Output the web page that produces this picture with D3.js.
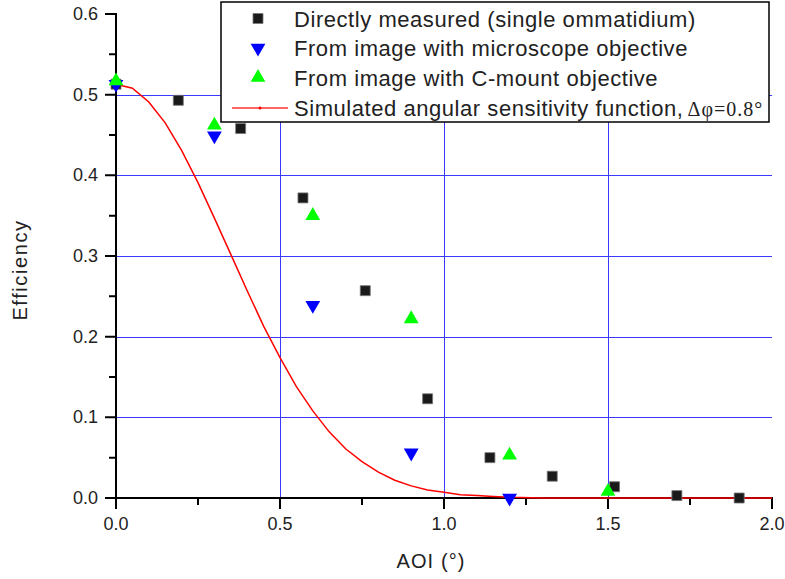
<!DOCTYPE html>
<html><head><meta charset="utf-8">
<script src="https://cdn.jsdelivr.net/npm/d3@7"></script>
<style>body{margin:0;background:#fff}svg{display:block}text{font-family:"Liberation Sans",Arial,sans-serif}</style>
</head><body>
<svg id="c" width="785" height="579"></svg>
<script>
// Directly measured (single ommatidium)
const directX = [0, 0.19, 0.38, 0.57, 0.76, 0.95, 1.14, 1.33, 1.52, 1.71, 1.90];
const directY = [0.513, 0.493, 0.458, 0.372, 0.257, 0.123, 0.050, 0.027, 0.014, 0.003, 0.000];
// From image with microscope objective
const microX = [0, 0.3, 0.6, 0.9, 1.2];
const microY = [0.513, 0.449, 0.239, 0.056, 0.000];
// From image with C-mount objective
const cmountX = [0, 0.3, 0.6, 0.9, 1.2, 1.5];
const cmountY = [0.517, 0.462, 0.350, 0.222, 0.053, 0.008];
// Simulated angular sensitivity function
const simX = [0,0.05,0.1,0.15,0.2,0.25,0.3,0.35,0.4,0.45,0.5,0.55,0.6,0.65,0.7,0.75,0.8,0.85,0.9,0.95,1.0,1.05,1.1,1.15,1.2,1.3,1.4,1.6,1.8,2.0];
const simY = [0.513,0.508,0.491,0.465,0.431,0.391,0.347,0.302,0.257,0.213,0.174,0.138,0.108,0.082,0.061,0.045,0.032,0.022,0.015,0.010,0.007,0.004,0.003,0.002,0.001,0,0,0,0,0];
const xTicks = [0, 0.5, 1.0, 1.5, 2.0];
const xMinor = [0.25, 0.75, 1.25, 1.75];
const yTicks = [0, 0.1, 0.2, 0.3, 0.4, 0.5, 0.6];
const yMinor = [0.05, 0.15, 0.25, 0.35, 0.45, 0.55];
const xGrid = [0.5, 1.0, 1.5];
const yGrid = [0.1, 0.2, 0.3, 0.4, 0.5];
const legendLabels = ["Directly measured (single ommatidium)", "From image with microscope objective", "From image with C-mount objective", "Simulated angular sensitivity function,"];

const svg = d3.select("#c");
const L = 116, R = 772, T = 14, B = 498;
const x = d3.scaleLinear().domain([0, 2]).range([L, R]);
const y = d3.scaleLinear().domain([0, 0.6]).range([B, T]);
const gridColor = "#3a3aff";
const fmt = d3.format(".1f");

// grid
svg.append("g").selectAll("rect").data(xGrid).join("rect")
  .attr("x", d => Math.round(x(d))).attr("width", 1).attr("y", T).attr("height", B - T)
  .attr("fill", gridColor);
svg.append("g").selectAll("rect").data(yGrid).join("rect")
  .attr("x", L).attr("width", R - L).attr("y", d => Math.round(y(d))).attr("height", 1)
  .attr("fill", gridColor);

// tick labels
svg.append("g").selectAll("text").data(xTicks).join("text")
  .attr("x", d => x(d)).attr("y", 530).attr("text-anchor", "middle")
  .attr("font-size", 18).attr("fill", "#222").text(d => fmt(d));
svg.append("g").selectAll("text").data(yTicks).join("text")
  .attr("x", 98).attr("y", d => y(d)).attr("dy", "0.33em").attr("text-anchor", "end")
  .attr("font-size", 18).attr("fill", "#222").text(d => fmt(d));

// axis titles
svg.append("text").attr("x", 431).attr("y", 568).attr("text-anchor", "middle")
  .attr("font-size", 20).attr("letter-spacing", 1.1).attr("fill", "#222").text("AOI (°)");
svg.append("text").attr("transform", `translate(27,270) rotate(-90)`).attr("text-anchor", "middle")
  .attr("font-size", 20).attr("letter-spacing", 1.6).attr("fill", "#222").text("Efficiency");

// axes as a single stroked path built from the scales
let dAxis = `M${x(0)},${y(0.6)}V${y(0)}H${x(2)}`;
xTicks.forEach(v => { dAxis += `M${x(v)},${B}v10`; });
xMinor.forEach(v => { dAxis += `M${x(v)},${B}v6`; });
yTicks.forEach(v => { dAxis += `M${L},${y(v)}h-10`; });
yMinor.forEach(v => { dAxis += `M${L},${y(v)}h-6`; });
svg.append("path").attr("d", dAxis).attr("fill", "none")
  .attr("stroke", "#000").attr("stroke-width", 2).attr("stroke-linecap", "square");

// simulated curve (on top of axis)
const simData = simX.map((v, i) => [v, simY[i]]);
svg.append("path").datum(simData)
  .attr("d", d3.line().x(d => x(d[0])).y(d => y(d[1])))
  .attr("fill", "none").attr("stroke", "#ff0000").attr("stroke-width", 1.5);

// symbols
const sq = d3.symbol().type(d3.symbolSquare).size(100);
const tri = d3.symbol().type(d3.symbolTriangle).size(95);
svg.append("g").selectAll("path").data(directX.map((v, i) => [v, directY[i]])).join("path")
  .attr("d", sq).attr("transform", d => `translate(${x(d[0])},${y(d[1])})`)
  .attr("fill", "#1a1a1a").attr("stroke", "#777").attr("stroke-width", 0.8);
svg.append("g").selectAll("path").data(microX.map((v, i) => [v, microY[i]])).join("path")
  .attr("d", tri).attr("transform", d => `translate(${x(d[0])},${y(d[1])}) rotate(180)`)
  .attr("fill", "#0000ff");
svg.append("g").selectAll("path").data(cmountX.map((v, i) => [v, cmountY[i]])).join("path")
  .attr("d", tri).attr("transform", d => `translate(${x(d[0])},${y(d[1])})`)
  .attr("fill", "#00ff00");

// legend
const lg = svg.append("g");
lg.append("rect").attr("x", 221).attr("y", 2).attr("width", 548).attr("height", 120)
  .attr("fill", "#fff").attr("stroke", "#000").attr("stroke-width", 1.5);
const rows = [18.5, 48, 77.5, 108];
const tx = lg.selectAll("text.l").data(legendLabels).join("text").attr("class", "l")
  .attr("x", 294).attr("y", (d, i) => rows[i] + 8)
  .attr("font-size", 22).attr("letter-spacing", 0.55).attr("fill", "#222").text(d => d);
lg.append("path").attr("d", sq).attr("transform", `translate(258,${rows[0]})`).attr("fill", "#1a1a1a").attr("stroke", "#777").attr("stroke-width", 0.8);
lg.append("path").attr("d", tri).attr("transform", `translate(258,${rows[1]}) rotate(180)`).attr("fill", "#0000ff");
lg.append("path").attr("d", tri).attr("transform", `translate(258,${rows[2]})`).attr("fill", "#00ff00");
lg.append("rect").attr("x", 232).attr("width", 56).attr("y", rows[3] - 0.6).attr("height", 1.2).attr("fill", "#ff0000");
lg.append("circle").attr("cx", 260).attr("cy", rows[3]).attr("r", 1.5).attr("fill", "#ff0000");
const tw = tx.nodes()[3].getComputedTextLength();
lg.append("text").attr("x", 294 + tw + 4).attr("y", rows[3] + 8)
  .attr("font-size", 20).attr("letter-spacing", 1).attr("fill", "#222").style("font-family", "Liberation Serif, Times New Roman, serif")
  .text("Δφ=0.8°");
</script>
</body></html>
